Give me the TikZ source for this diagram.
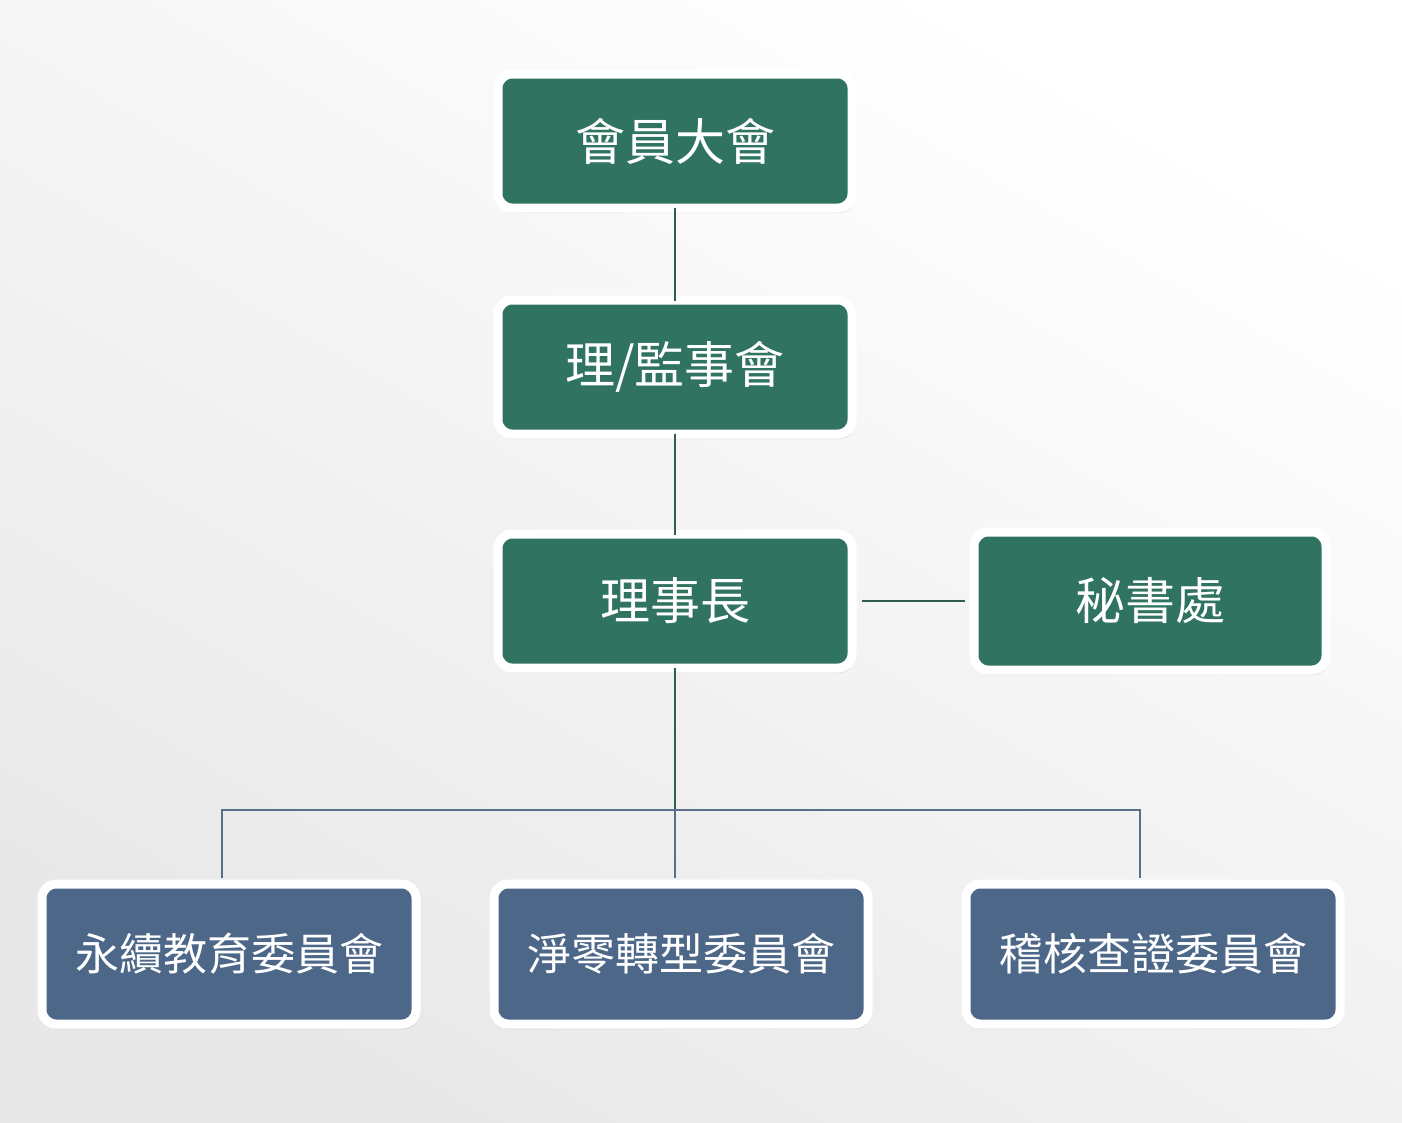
\documentclass[tikz,border=0pt]{standalone}
\usepackage{fontspec}
\setmainfont{Noto Sans CJK TC}
\usetikzlibrary{shadows}
\definecolor{grn}{HTML}{2F7360}
\definecolor{blu}{HTML}{4D6789}
\definecolor{lineg}{HTML}{2E5E50}
\definecolor{lineb}{HTML}{5A6F8A}
\begin{document}
\begin{tikzpicture}[x=1pt,y=-1pt,
 box/.style={rounded corners=14pt,draw=white,line width=9pt,text=white,inner sep=0pt,
   drop shadow={shadow xshift=2pt,shadow yshift=-5pt,opacity=0.18}},
 g/.style={box,fill=grn,minimum width=354pt,minimum height=134pt,font=\fontsize{50}{54}\selectfont},
 b/.style={box,fill=blu,minimum width=374pt,minimum height=140pt,font=\fontsize{44}{48}\selectfont},
 gl/.style={lineg,line width=1.6pt},
 bl/.style={lineb,line width=1.6pt}]
\shade[top color=white,bottom color=gray!18,shading angle=-30] (0,0) rectangle (1402,1122);
\useasboundingbox (0,0) rectangle (1402,1122);
\node[g] (a) at (675,141) {會員大會};
\node[g] (bb) at (675,367) {理/監事會};
\node[g] (c) at (675,601) {理事長};
\node[g,minimum width=352pt,minimum height=138pt] (s) at (1150,601) {秘書處};
\node[b] (d) at (229,954) {永續教育委員會};
\node[b] (e) at (681,954) {淨零轉型委員會};
\node[b] (f) at (1153,954) {稽核查證委員會};
\coordinate (j) at (675,810);
\draw[gl] ([yshift=5pt]a.south) -- ([yshift=-5pt]bb.north);
\draw[gl] ([yshift=5pt]bb.south) -- ([yshift=-5pt]c.north);
\draw[gl] ([yshift=5pt]c.south) -- (j);
\draw[gl] ([xshift=5pt]c.east) -- ([xshift=-5pt]s.west);
\draw[bl] (222,878) -- (222,810) -- (1140,810) -- (1140,878);
\draw[bl] (j) -- (675,878);
\end{tikzpicture}
\end{document}
